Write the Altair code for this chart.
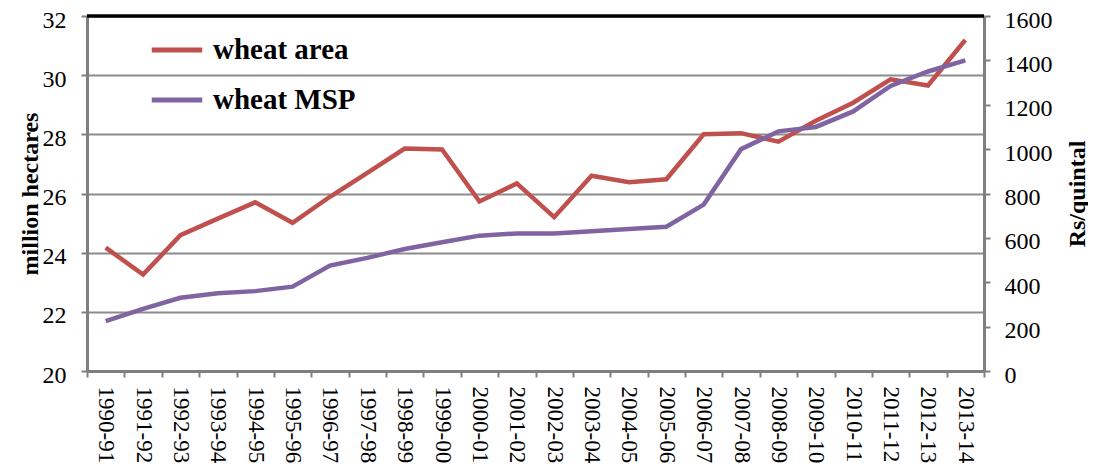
import altair as alt
import pandas as pd

years = ["1990-91", "1991-92", "1992-93", "1993-94", "1994-95", "1995-96",
         "1996-97", "1997-98", "1998-99", "1999-00", "2000-01", "2001-02",
         "2002-03", "2003-04", "2004-05", "2005-06", "2006-07", "2007-08",
         "2008-09", "2009-10", "2010-11", "2011-12", "2012-13", "2013-14"]
wheat_area = [24.17, 23.26, 24.59, 25.15, 25.70, 25.01, 25.89, 26.70, 27.52,
              27.49, 25.73, 26.34, 25.20, 26.60, 26.38, 26.48, 28.00, 28.04,
              27.75, 28.46, 29.07, 29.86, 29.65, 31.19]
wheat_msp = [225, 280, 330, 350, 360, 380, 475, 510, 550, 580, 610, 620,
             620, 630, 640, 650, 750, 1000, 1080, 1100, 1170, 1285, 1350, 1400]

series_names = ["wheat area", "wheat MSP"]
series_colors = ["#C0504D", "#8064A2"]

df_area = pd.DataFrame({"year": years, "value": wheat_area, "series": series_names[0]})
df_msp = pd.DataFrame({"year": years, "value": wheat_msp, "series": series_names[1]})

W, H = 897, 355
FONT = "Liberation Serif"

x_enc = alt.X("year:N", sort=years, scale=alt.Scale(paddingInner=0, paddingOuter=0),
              axis=alt.Axis(title=None, labelAngle=90, labelFontSize=23, labelColor="#000",
                            labelFont=FONT, tickBand="extent", tickColor="#7f7f7f",
                            tickSize=6, tickWidth=2, domainColor="#7f7f7f", domainWidth=3,
                            labelPadding=9, grid=False, labelBaseline="middle", labelAlign="left"))

color_enc = alt.Color("series:N", scale=alt.Scale(domain=series_names, range=series_colors),
                      legend=alt.Legend(title=None, orient="none", legendX=62, legendY=6,
                                        symbolType="stroke", symbolStrokeWidth=5, symbolSize=2550,
                                        labelFontSize=29, labelFontWeight="bold", labelFont=FONT,
                                        labelColor="#000", rowPadding=7, labelOffset=8))

area_line = alt.Chart(df_area).mark_line(strokeWidth=4.5).encode(
    x=x_enc,
    y=alt.Y("value:Q", scale=alt.Scale(domain=[20, 32], nice=False),
            axis=alt.Axis(title="million hectares", values=[20, 22, 24, 26, 28, 30, 32],
                          titleFontSize=24, titleFontWeight="bold", titleFont=FONT,
                          titleColor="#000", titlePadding=0,
                          labelFontSize=24, labelFont=FONT, labelColor="#000", labelPadding=15,
                          labelOffset=4,
                          tickColor="#7f7f7f", tickSize=6, tickWidth=2,
                          domainColor="#7f7f7f", domainWidth=3,
                          grid=True, gridColor="#8c8c8c", gridWidth=1.8)),
    color=color_enc,
)

msp_line = alt.Chart(df_msp).mark_line(strokeWidth=4.5).encode(
    x=x_enc,
    y=alt.Y("value:Q", scale=alt.Scale(domain=[0, 1600], nice=False),
            axis=alt.Axis(title="Rs/quintal", orient="right", format="d",
                          values=[0, 200, 400, 600, 800, 1000, 1200, 1400, 1600],
                          titleFontSize=24, titleFontWeight="bold", titleFont=FONT,
                          titleColor="#000", titleAngle=270, titlePadding=37,
                          labelFontSize=24, labelFont=FONT, labelColor="#000", labelPadding=14,
                          labelOffset=4,
                          tickColor="#7f7f7f", tickSize=6, tickWidth=2,
                          domainColor="#7f7f7f", domainWidth=3, grid=False)),
    color=color_enc,
)

top_border = alt.Chart(pd.DataFrame({"a": [0]})).mark_rule(color="#000", strokeWidth=3.5).encode(
    x=alt.value(0), x2=alt.value(W), y=alt.value(0)
)

chart = alt.layer(area_line, msp_line, top_border).resolve_scale(
    y="independent"
).properties(
    width=W, height=H,
    autosize=alt.AutoSizeParams(type="none"),
    padding={"left": 79, "top": 8, "right": 104, "bottom": 95},
).configure_view(stroke=None).configure(background="white", font=FONT)

chart.save("out.html", embed_options={"renderer": "svg", "actions": False})
